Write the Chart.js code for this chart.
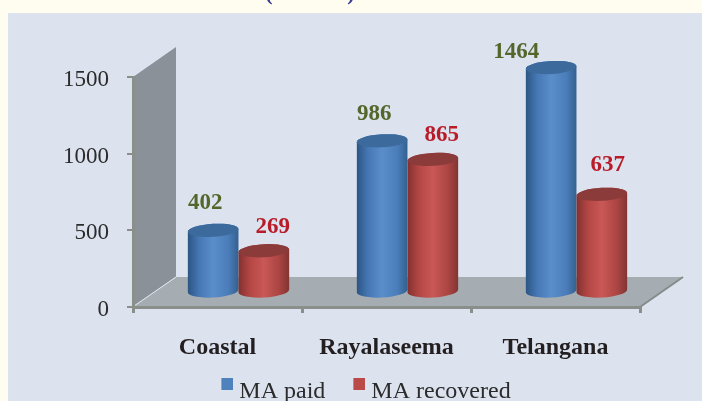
<!DOCTYPE html>
<html><head><meta charset="utf-8">
<style>html,body{margin:0;padding:0;background:#fffdf0;overflow:hidden}canvas{display:block}</style>
<script src="https://cdn.jsdelivr.net/npm/chart.js"></script>
</head><body><canvas id="c" width="702" height="401"></canvas>
<script>
const categories = ['Coastal', 'Rayalaseema', 'Telangana'];
const maPaid = [402, 986, 1464];
const maRecovered = [269, 865, 637];
const yTicks = [0, 500, 1000, 1500];
const seriesNames = ['MA paid', 'MA recovered'];
const legendColors = ['#4f81bd', '#b94a48'];

const DX = 21, DY = -15;           // 3-D depth shift of the bars from the front axis plane
const RY = 6.5, TILT = -0.055;
const palette = [
  {stops:['#2c5584','#4577b3','#5a8eca','#4a7db9','#33608f'], top:'#3d6a9c'},
  {stops:['#813130','#b34644','#c95856','#ab4543','#823432'], top:'#8b3b3a'}
];
const labelColor = ['#55662b', '#b81c28'];
const labelShift = [[-8,-8,-35],[9,9,6]];
const labelLift = [[27,27,15],[24,24,29]];

function legendSwatch(color){
  const c = document.createElement('canvas'); c.width = 18; c.height = 28;
  const g = c.getContext('2d'); g.fillStyle = color; g.fillRect(6, 0, 12, 12);
  return c;
}

const scene = {
  id:'scene',
  afterLayout(chart){
    const lg = chart.legend;
    lg.left += 42; lg.right += 42; lg.top -= 14; lg.bottom -= 14;
  },
  beforeDraw(chart){
    const {ctx, chartArea:a} = chart;
    ctx.save();
    ctx.fillStyle = '#fffdf0'; ctx.fillRect(0,0,702,401);
    ctx.fillStyle = '#dce3ef'; ctx.fillRect(8,13,694,388);
    // parts of the cropped title
    ctx.fillStyle = '#3b3a8e'; ctx.font = 'bold 22px "Liberation Serif"';
    ctx.textAlign = 'center'; ctx.textBaseline = 'alphabetic';
    ctx.fillText('(', 269, 0); ctx.fillText(')', 351, 0);
    const b = a.bottom, t = a.top, l = a.left, r = a.right, ox = 43, oy = -30;
    // back wall
    ctx.fillStyle = '#8a9199';
    ctx.beginPath(); ctx.moveTo(l,b); ctx.lineTo(l+ox,b+oy); ctx.lineTo(l+ox,t+oy); ctx.lineTo(l,t); ctx.closePath(); ctx.fill();
    // floor
    ctx.fillStyle = '#a6adb2';
    ctx.beginPath(); ctx.moveTo(l,b); ctx.lineTo(l+ox,b+oy); ctx.lineTo(r+ox,b+oy); ctx.lineTo(r,b); ctx.closePath(); ctx.fill();
    ctx.strokeStyle = '#868b8a'; ctx.lineWidth = 2;
    ctx.beginPath(); ctx.moveTo(r,b); ctx.lineTo(r+ox,b+oy); ctx.stroke();
    ctx.strokeStyle = '#e6ebf2'; ctx.lineWidth = 1;
    ctx.beginPath(); ctx.moveTo(l+1,b-1); ctx.lineTo(l+ox,b+oy); ctx.stroke();
    ctx.restore();
  },
  afterDatasetsDraw(chart){
    const {ctx} = chart;
    ctx.save();
    [0,1].forEach(ds=>{
      chart.getDatasetMeta(ds).data.forEach(el=>{
        const w = el.width, rx = w/2, x = el.x+DX, y = el.y+DY, base = el.base+DY;
        const g = ctx.createLinearGradient(x-rx,0,x+rx,0);
        palette[ds].stops.forEach((s,i)=>g.addColorStop([0,.22,.5,.8,1][i],s));
        ctx.fillStyle = g;
        ctx.beginPath();
        ctx.ellipse(x,base,rx,RY,TILT,0,Math.PI);
        ctx.ellipse(x,y,rx,RY,TILT,Math.PI,0);
        ctx.closePath(); ctx.fill();
        ctx.fillStyle = palette[ds].top;
        ctx.beginPath(); ctx.ellipse(x,y,rx,RY,TILT,0,Math.PI*2); ctx.fill();
      });
    });
    ctx.font = 'bold 23px "Liberation Serif"';
    ctx.textAlign = 'center'; ctx.textBaseline = 'middle';
    [0,1].forEach(ds=>{
      const values = chart.data.datasets[ds].data;
      chart.getDatasetMeta(ds).data.forEach((el,i)=>{
        ctx.fillStyle = labelColor[ds];
        ctx.fillText(String(values[i]), el.x+DX+labelShift[ds][i], el.y+DY-labelLift[ds][i]);
      });
    });
    ctx.restore();
  }
};

new Chart(document.getElementById('c'),{
  type:'bar',
  data:{labels:categories,datasets:[
    {label:seriesNames[0],data:maPaid,backgroundColor:'rgba(0,0,0,0)',pointStyle:legendSwatch(legendColors[0])},
    {label:seriesNames[1],data:maRecovered,backgroundColor:'rgba(0,0,0,0)',pointStyle:legendSwatch(legendColors[1])}
  ]},
  plugins:[scene],
  options:{
    responsive:false,animation:false,
    categoryPercentage:0.6,barPercentage:1,
    layout:{padding:{left:8,right:62,top:77,bottom:-27}},
    plugins:{
      title:{display:false},tooltip:{enabled:false},
      legend:{position:'bottom',align:'center',
        labels:{usePointStyle:true,pointStyleWidth:6,padding:28,color:'#2b2b2b',font:{family:'"Liberation Serif"',size:24}}}
    },
    scales:{
      x:{
        afterFit(s){s.height=59},
        grid:{drawOnChartArea:false,tickLength:6,color:'#8a8f8c',lineWidth:3},
        border:{color:'#8a8f8c',width:3},
        ticks:{padding:20,color:'#231f20',maxRotation:0,font:{family:'"Liberation Serif"',size:24,weight:'bold'}}
      },
      y:{
        min:0,max:1500,
        afterFit(s){s.width=125},
        afterBuildTicks(s){s.ticks=yTicks.map(v=>({value:v}))},
        grid:{drawOnChartArea:false,tickLength:6,color:'#8a8f8c',lineWidth:2},
        border:{color:'#8a8f8c',width:3},
        ticks:{padding:18,labelOffset:3,color:'#2b2b2b',callback:v=>String(v),font:{family:'"Liberation Serif"',size:23}}
      }
    }
  }
});
</script></body></html>
